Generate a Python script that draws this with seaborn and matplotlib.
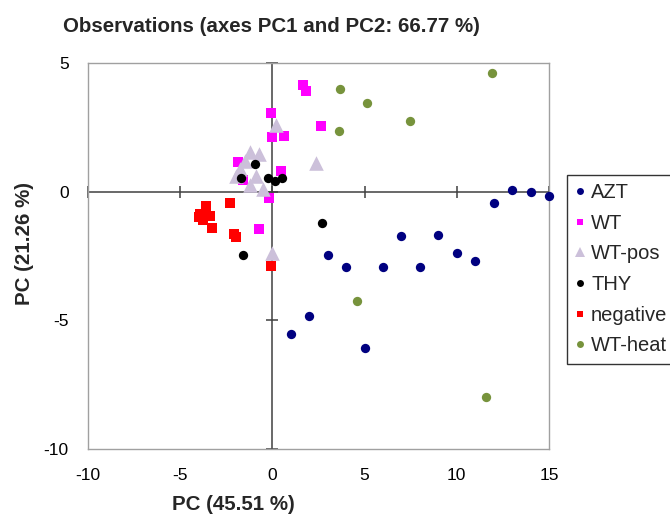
import numpy as np
import pandas as pd
import matplotlib
matplotlib.use("Agg")
import matplotlib.pyplot as plt
from matplotlib.lines import Line2D
import seaborn as sns

# PCA scores (PC1, PC2) per group
azt_x = [1, 2, 3, 4, 5, 6, 7, 8, 9, 10, 11, 12, 13, 14, 15]
azt_y = [-5.54, -4.82, -2.47, -2.94, -6.06, -2.94, -1.73, -2.94, -1.68, -2.38, -2.68, -0.44, 0.06, 0.0, -0.18]

wt_x = [1.64, 1.82, -0.08, 2.64, 0.0, 0.61, 0.48, -0.17, -0.71, -1.85, -1.58]
wt_y = [4.13, 3.91, 3.04, 2.56, 2.12, 2.16, 0.80, -0.23, -1.47, 1.16, 0.47]

wtpos_x = [0.2, 2.35, -1.2, -0.7, -2.0, -1.75, -1.2, -0.5, -0.9, 0.0, -1.5]
wtpos_y = [2.6, 1.1, 1.55, 1.45, 0.6, 0.9, 0.25, 0.12, 0.6, -2.4, 1.2]

thy_x = [-0.96, -1.69, -0.22, 0.14, 0.5, 2.71, -1.59]
thy_y = [1.06, 0.54, 0.54, 0.41, 0.54, -1.2, -2.48]

neg_x = [-2.3, -3.6, -3.9, -3.4, -3.75, -4.0, -3.3, -2.1, -2.0, -0.1]
neg_y = [-0.45, -0.55, -0.85, -0.95, -1.1, -1.0, -1.4, -1.65, -1.75, -2.9]

heat_x = [11.89, 3.68, 5.15, 3.61, 7.44, 4.59, 11.58]
heat_y = [4.6, 3.99, 3.46, 2.35, 2.76, -4.26, -7.96]

groups = ["AZT", "WT", "WT-pos", "THY", "negative", "WT-heat"]
xs = [azt_x, wt_x, wtpos_x, thy_x, neg_x, heat_x]
ys = [azt_y, wt_y, wtpos_y, thy_y, neg_y, heat_y]

x_ticks = [-10, -5, 0, 5, 10, 15]
y_ticks = [-10, -5, 0, 5]

colors = {"AZT": "#000080", "WT": "#FF00FF", "WT-pos": "#CCC0DA",
          "THY": "#000000", "negative": "#FF0000", "WT-heat": "#77933C"}
markers = {"AZT": "o", "WT": "s", "WT-pos": "^", "THY": "o",
           "negative": "s", "WT-heat": "o"}
sizes = {"AZT": 45, "WT": 45, "WT-pos": 110, "THY": 45, "negative": 45, "WT-heat": 45}

df = pd.concat([pd.DataFrame({"PC1": x, "PC2": y, "group": g})
                for g, x, y in zip(groups, xs, ys)], ignore_index=True)

sns.set_style("white")
plt.rcParams["font.family"] = ["Liberation Sans", "DejaVu Sans"]
plt.rcParams["axes.unicode_minus"] = False

fig = plt.figure(figsize=(6.7, 5.21), dpi=100)
ax = fig.add_axes([88 / 670, 1 - 449 / 521, (549 - 88) / 670, (449 - 63) / 521])

# zero lines through the origin, carrying the tick marks
ax.axhline(0, color="#404040", lw=1.1, zorder=1)
ax.axvline(0, color="#404040", lw=1.1, zorder=1)
ax.plot(x_ticks, [0] * len(x_ticks), ls="none", marker="|", ms=9,
        mew=1.1, color="#404040", zorder=1, clip_on=False)
ax.plot([0] * len(y_ticks), y_ticks, ls="none", marker="_", ms=9,
        mew=1.1, color="#404040", zorder=1, clip_on=False)

for g in groups:
    sub = df[df["group"] == g]
    sns.scatterplot(data=sub, x="PC1", y="PC2", ax=ax, color=colors[g],
                    marker=markers[g], s=sizes[g], linewidth=0, legend=False,
                    zorder=3, clip_on=False)

ax.set_xlim(-10, 15)
ax.set_ylim(-10, 5)
ax.set_xticks(x_ticks)
ax.set_yticks(y_ticks)
ax.tick_params(axis="both", length=0, labelsize=12.5, pad=14, colors="#000000")
ax.set_xlabel("")
ax.set_ylabel("")
for sp in ax.spines.values():
    sp.set_color("#A0A0A0")
    sp.set_linewidth(1.0)

fig.text(271 / 670, 1 - 26 / 521, "Observations (axes PC1 and PC2: 66.77 %)",
         ha="center", va="center", fontsize=14.8, fontweight="bold")
fig.text(233 / 670, 1 - 505 / 521, "PC (45.51 %)", ha="center", va="center",
         fontsize=14.8, fontweight="bold")
fig.text(25 / 670, 1 - 243 / 521, "PC (21.26 %)", ha="center", va="center",
         rotation=90, fontsize=14.8, fontweight="bold")

handles = [Line2D([], [], ls="none", marker=markers[g], color=colors[g],
                  ms=5 if markers[g] != "^" else 7, mew=0) for g in groups]
leg = fig.legend(handles, groups, loc="upper left",
                 bbox_to_anchor=(567 / 670, 1 - 175 / 521), frameon=True,
                 fancybox=False, edgecolor="#000000", fontsize=14.5,
                 handlelength=0.5, handletextpad=0.3,
                 labelspacing=0.58, borderpad=0.4, borderaxespad=0)
leg.get_frame().set_linewidth(1.0)

fig.savefig("out.png", dpi=100)
